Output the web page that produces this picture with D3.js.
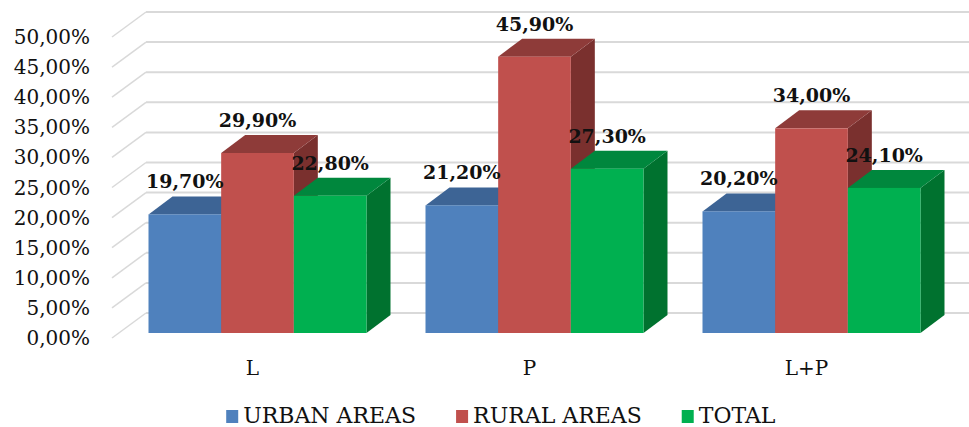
<!DOCTYPE html>
<html>
<head>
<meta charset="utf-8">
<script src="https://cdn.jsdelivr.net/npm/d3@7"></script>
<style>
  body { margin: 0; background: #fff; }
  svg { display: block; font-family: "DejaVu Serif", serif; }
</style>
</head>
<body>
<div id="chart"></div>
<script>
// Data
const categories = ['L', 'P', 'L+P'];
const seriesNames = ['URBAN AREAS', 'RURAL AREAS', 'TOTAL'];
const urbanValues = [19.7, 21.2, 20.2];
const ruralValues = [29.9, 45.9, 34.0];
const totalValues = [22.8, 27.3, 24.1];
const yTickValues = [0, 5, 10, 15, 20, 25, 30, 35, 40, 45, 50];

const seriesValues = [urbanValues, ruralValues, totalValues];
const colors = [
  { front: '#4f81bd', top: '#3d6495', side: '#34577f' },
  { front: '#c0504d', top: '#8e3b39', side: '#7a302e' },
  { front: '#00b050', top: '#00873d', side: '#00722f' }
];

const width = 969;
const height = 427;

// oblique projection offsets
const wallDx = 34, wallDy = -25;   // front plane -> back wall
const barDx = 7, barDy = -5;       // front plane -> bar front face
const depthDx = 24, depthDy = -18; // bar depth

const svg = d3.select('#chart')
  .append('svg')
  .attr('width', width)
  .attr('height', height);

const y = d3.scaleLinear()
  .domain([0, 50])
  .range([338, 37]);

const x = d3.scaleBand()
  .domain(categories)
  .range([112, 943])
  .paddingInner(0.213)
  .paddingOuter(0.1065);

const xSub = d3.scaleBand()
  .domain(seriesNames)
  .range([0, x.bandwidth()]);

const fmt = v => d3.format('.2f')(v).replace('.', ',') + '%';

// Gridlines (side wall diagonal + back wall)
const grid = svg.append('g').attr('class', 'grid');
yTickValues.forEach(t => {
  const y0 = y(t);
  grid.append('line')
    .attr('x1', 112).attr('y1', y0)
    .attr('x2', 112 + wallDx).attr('y2', y0 + wallDy)
    .attr('stroke', '#d9d9d9')
    .attr('stroke-width', 1.5);
  grid.append('line')
    .attr('x1', 112 + wallDx).attr('y1', y0 + wallDy)
    .attr('x2', 943 + wallDx).attr('y2', y0 + wallDy)
    .attr('stroke', '#d9d9d9')
    .attr('stroke-width', 2);
});

// Y axis labels
svg.append('g')
  .selectAll('text')
  .data(yTickValues)
  .enter().append('text')
  .attr('x', 90)
  .attr('y', d => y(d))
  .attr('dy', '0.35em')
  .attr('text-anchor', 'end')
  .attr('font-size', 20)
  .attr('fill', '#111')
  .text(d => fmt(d));

// Bars
const bars = svg.append('g').attr('class', 'bars');
categories.forEach((cat, ci) => {
  seriesNames.forEach((s, si) => {
    const v = seriesValues[si][ci];
    const x0 = x(cat) + xSub(s) + barDx;
    const x1 = x0 + xSub.bandwidth();
    const yTop = y(v) + barDy;
    const yBot = y(0) + barDy;
    const c = colors[si];

    // right side
    bars.append('path')
      .attr('d', `M${x1},${yTop} L${x1 + depthDx},${yTop + depthDy} L${x1 + depthDx},${yBot + depthDy} L${x1},${yBot} Z`)
      .attr('fill', c.side);
    // top
    bars.append('path')
      .attr('d', `M${x0},${yTop} L${x0 + depthDx},${yTop + depthDy} L${x1 + depthDx},${yTop + depthDy} L${x1},${yTop} Z`)
      .attr('fill', c.top);
    // front
    bars.append('rect')
      .attr('x', x0)
      .attr('y', yTop)
      .attr('width', xSub.bandwidth())
      .attr('height', yBot - yTop)
      .attr('fill', c.front);
  });
});

// Value labels
const labels = svg.append('g').attr('class', 'labels');
categories.forEach((cat, ci) => {
  seriesNames.forEach((s, si) => {
    const v = seriesValues[si][ci];
    labels.append('text')
      .attr('x', x(cat) + xSub(s) + barDx + xSub.bandwidth() / 2)
      .attr('y', y(v) + barDy - 26)
      .attr('text-anchor', 'middle')
      .attr('font-size', 19)
      .attr('font-weight', 'bold')
      .attr('fill', '#111')
      .text(fmt(v));
  });
});

// Category labels
svg.append('g')
  .selectAll('text')
  .data(categories)
  .enter().append('text')
  .attr('x', d => x(d) + x.bandwidth() / 2 + 2)
  .attr('y', 375)
  .attr('text-anchor', 'middle')
  .attr('font-size', 20)
  .attr('fill', '#111')
  .text(d => d);

// Legend
const legend = svg.append('g').attr('class', 'legend');
const items = legend.selectAll('g')
  .data(seriesNames)
  .enter().append('g');
items.append('rect')
  .attr('width', 12)
  .attr('height', 13)
  .attr('y', -13)
  .attr('fill', (d, i) => colors[i].front);
items.append('text')
  .attr('x', 17)
  .attr('y', 0)
  .attr('font-size', 22)
  .attr('fill', '#111')
  .text(d => d);

const gap = 40;
let total = 0;
const widths = [];
items.each(function() {
  const w = this.getBBox().width;
  widths.push(w);
  total += w;
});
total += gap * (seriesNames.length - 1);
let lx = 501 - total / 2;
items.each(function(d, i) {
  d3.select(this).attr('transform', `translate(${lx},423)`);
  lx += widths[i] + gap;
});
</script>
</body>
</html>
